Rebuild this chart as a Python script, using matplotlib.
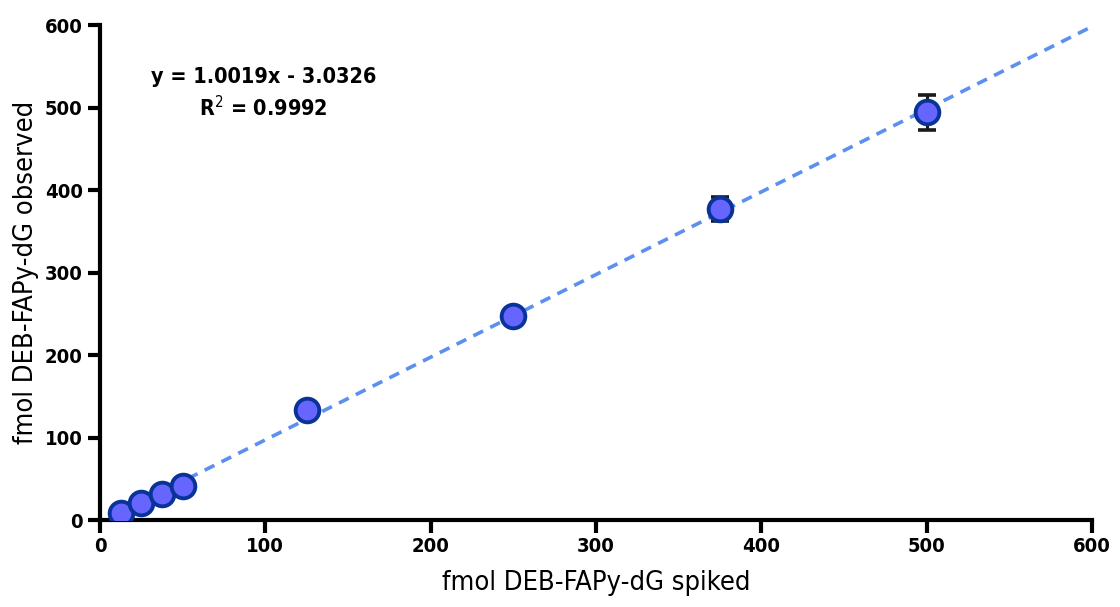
import numpy as np
import matplotlib
matplotlib.use("Agg")
import matplotlib.pyplot as plt

# data
spiked = [12.5, 25, 37.5, 50, 125, 250, 375, 500]
observed = [8.5, 20.5, 31.5, 41, 133, 247, 377, 494]
err = [2, 2, 2, 2, 3, 3, 15, 21]
slope = 1.0019
intercept = -3.0326
r2 = 0.9992

plt.rcParams['font.family'] = ['DejaVu Sans']
plt.rcParams['font.stretch'] = 'condensed'

fig = plt.figure(figsize=(11.2, 6.07), dpi=100)
ax = fig.add_axes([0.0893, 0.1433, 0.8857, 0.8155])

# fitted line
xf = np.array([spiked[0], 600])
ax.plot(xf, slope * xf + intercept, ls=(0, (3, 2.2)), color='#5b8ff0', lw=2.6, zorder=1)

ax.errorbar(spiked, observed, yerr=err, fmt='none', ecolor='#1a1a1a',
            elinewidth=2.2, capsize=6.5, capthick=2.6, zorder=2)
ax.scatter(spiked, observed, s=290, c='#6666ff', edgecolors='#0a3399',
           linewidths=2.8, zorder=3)

ax.set_xlim(0, 600)
ax.set_ylim(0, 600)
ax.set_xticks(range(0, 601, 100))
ax.set_yticks(range(0, 601, 100))
for s in ['top', 'right']:
    ax.spines[s].set_visible(False)
for s in ['left', 'bottom']:
    ax.spines[s].set_linewidth(3)
ax.tick_params(width=3, length=9, labelsize=14.5)
for lab in ax.get_xticklabels() + ax.get_yticklabels():
    lab.set_fontweight('bold')

ax.set_xlabel('fmol DEB-FAPy-dG spiked', fontsize=19.5, labelpad=10)
ax.set_ylabel('fmol DEB-FAPy-dG observed', fontsize=19.5, labelpad=4)

ax.text(99, 537, f'y = {slope:.4f}x - {abs(intercept):.4f}', ha='center', va='center',
        fontsize=15.5, fontweight='bold')
ax.text(99, 500, f'R$^2$ = {r2:.4f}', ha='center', va='center',
        fontsize=15.5, fontweight='bold')

fig.savefig('out.png', dpi=100)
